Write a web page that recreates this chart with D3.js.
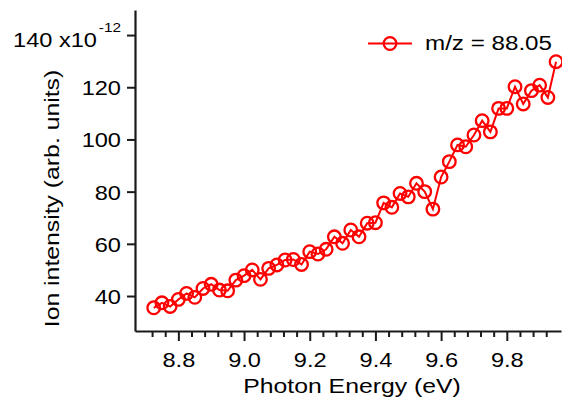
<!DOCTYPE html>
<html>
<head>
<meta charset="utf-8">
<script src="https://cdn.jsdelivr.net/npm/d3@7"></script>
<style>
  html, body { margin: 0; padding: 0; background: #fff; }
  svg { display: block; }
  text { font-family: "Liberation Sans", Arial, sans-serif; fill: #000; }
</style>
</head>
<body>
<svg id="chart" width="562" height="399"></svg>
<script>
// ---- data ----
const photonEnergy = [
  8.725, 8.750, 8.775, 8.800, 8.825, 8.850, 8.875, 8.900, 8.925, 8.950,
  8.975, 9.000, 9.025, 9.050, 9.075, 9.100, 9.125, 9.150, 9.175, 9.200,
  9.225, 9.250, 9.275, 9.300, 9.325, 9.350, 9.375, 9.400, 9.425, 9.450,
  9.475, 9.500, 9.525, 9.550, 9.575, 9.600, 9.625, 9.650, 9.675, 9.700,
  9.725, 9.750, 9.775, 9.800, 9.825, 9.850, 9.875, 9.900, 9.925, 9.950
];
const ionIntensity = [
  35.5, 37.4, 36.0, 38.7, 41.0, 39.5, 42.9, 44.5, 42.3, 42.0,
  46.1, 47.8, 50.0, 46.4, 50.6, 51.9, 53.8, 54.0, 52.1, 57.0,
  56.1, 57.9, 62.7, 60.2, 65.3, 62.7, 67.9, 68.1, 75.7, 74.0,
  79.3, 78.0, 83.2, 80.0, 73.3, 85.6, 91.5, 97.9, 97.2, 101.7,
  107.2, 102.9, 111.9, 111.9, 120.2, 113.6, 118.7, 120.8, 116.1, 129.8
];
const xMajorTicks = [8.8, 9.0, 9.2, 9.4, 9.6, 9.8];
const xMajorLabels = ["8.8", "9.0", "9.2", "9.4", "9.6", "9.8"];
const xMinorTicks = [8.72, 8.76, 8.84, 8.88, 8.92, 8.96, 9.04, 9.08, 9.12, 9.16,
  9.24, 9.28, 9.32, 9.36, 9.44, 9.48, 9.52, 9.56, 9.64, 9.68, 9.72, 9.76, 9.84, 9.88, 9.92];
const yTicks = [40, 60, 80, 100, 120, 140];
const yTickLabels = ["40", "60", "80", "100", "120", "140 x10"];
const yExponent = "-12";
const seriesName = "m/z = 88.05";
const xTitle = "Photon Energy (eV)";
const yTitle = "Ion intensity (arb. units)";

// ---- layout ----
const RED = "#ff0000";
const AX = "#1a1a1a";
const SX = 1.18; // horizontal glyph stretch of the original font
const svg = d3.select("#chart");
svg.append("rect").attr("width", 562).attr("height", 399).attr("fill", "#fff");

const x = d3.scaleLinear().domain([8.668, 9.965]).range([135, 561]);
const y = d3.scaleLinear().domain([26.6, 149.6]).range([331, 10]);

// x axis: minor ticks
svg.append("g")
  .attr("transform", "translate(0,331)")
  .call(d3.axisBottom(x).tickValues(xMinorTicks).tickSize(6).tickFormat(""))
  .call(g => g.select(".domain").remove())
  .call(g => g.selectAll("line").attr("stroke", AX).attr("stroke-width", 2));

// x axis: major ticks + labels
svg.append("g")
  .attr("transform", "translate(0,331)")
  .call(d3.axisBottom(x).tickValues(xMajorTicks).tickSize(10).tickSizeOuter(0)
        .tickFormat((d, i) => xMajorLabels[i]))
  .call(g => g.select(".domain").attr("stroke", AX).attr("stroke-width", 2.2))
  .call(g => g.selectAll("line").attr("stroke", AX).attr("stroke-width", 2))
  .call(g => g.selectAll("text")
      .attr("y", 36).attr("dy", null)
      .attr("font-size", 20).attr("fill", "#000")
      .attr("transform", `scale(${SX},1)`));

// y axis
const yAxisG = svg.append("g")
  .attr("transform", "translate(135,0)")
  .call(d3.axisLeft(y).tickValues(yTicks).tickSize(8).tickSizeOuter(0)
        .tickFormat((d, i) => yTickLabels[i]))
  .call(g => g.select(".domain").attr("stroke", AX).attr("stroke-width", 2.2))
  .call(g => g.selectAll("line").attr("stroke", AX).attr("stroke-width", 2))
  .call(g => g.selectAll("text")
      .attr("x", 0).attr("dy", null).attr("y", 7.5)
      .attr("font-size", 20).attr("fill", "#000")
      .attr("transform", `translate(-14,0) scale(${SX},1)`));

// top label with exponent
yAxisG.selectAll(".tick").filter(d => d === 140).select("text")
  .attr("y", 11.7)
  .attr("transform", `translate(-38,0) scale(${SX},1)`);
yAxisG.selectAll(".tick").filter(d => d === 140)
  .append("text")
  .attr("x", 0).attr("y", -3.5)
  .attr("text-anchor", "end")
  .attr("font-size", 13)
  .attr("fill", "#000")
  .attr("transform", `translate(-14,0) scale(${SX},1)`)
  .text(yExponent);

// axis titles
svg.append("text")
  .attr("transform", `translate(352,393) scale(${SX},1)`)
  .attr("text-anchor", "middle")
  .attr("font-size", 21)
  .text(xTitle);
svg.append("text")
  .attr("transform", `translate(59,198.5) rotate(-90) scale(${SX},1)`)
  .attr("text-anchor", "middle")
  .attr("font-size", 21)
  .text(yTitle);

// series
const pts = photonEnergy.map((e, i) => [e, ionIntensity[i]]);
svg.append("path")
  .datum(pts)
  .attr("fill", "none")
  .attr("stroke", RED)
  .attr("stroke-width", 2)
  .attr("d", d3.line().x(d => x(d[0])).y(d => y(d[1])));
svg.append("g").selectAll("circle")
  .data(pts)
  .join("circle")
  .attr("cx", d => x(d[0]))
  .attr("cy", d => y(d[1]))
  .attr("r", 6.3)
  .attr("fill", "none")
  .attr("stroke", RED)
  .attr("stroke-width", 2.3);

// legend
const lg = svg.append("g");
lg.append("line").attr("x1", 368).attr("x2", 412).attr("y1", 43.5).attr("y2", 43.5)
  .attr("stroke", RED).attr("stroke-width", 2);
lg.append("circle").attr("cx", 390).attr("cy", 43.5).attr("r", 6.3)
  .attr("fill", "none").attr("stroke", RED).attr("stroke-width", 2.3);
lg.append("text")
  .attr("transform", `translate(425,50) scale(${SX},1)`)
  .attr("font-size", 20.5)
  .text(seriesName);
</script>
</body>
</html>
